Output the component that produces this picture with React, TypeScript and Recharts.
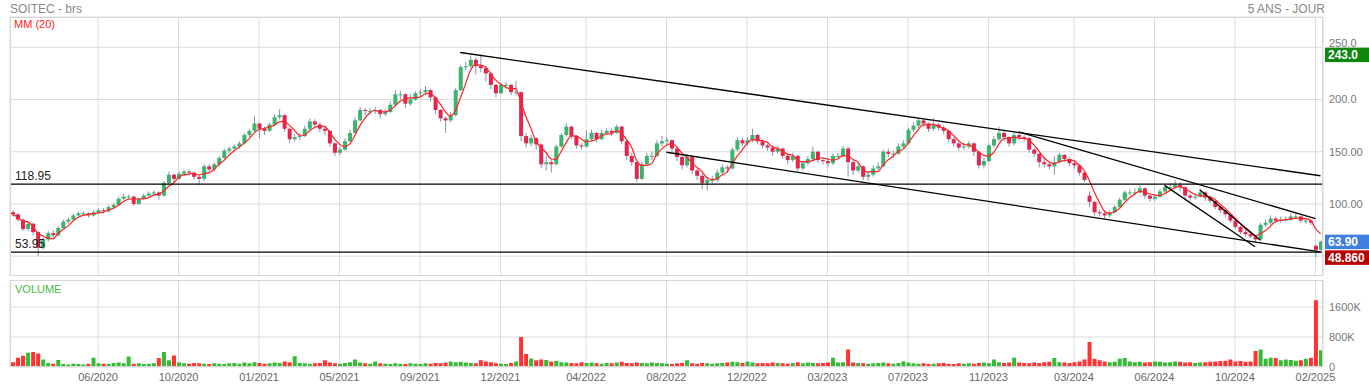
import React from 'react';
import { ComposedChart, Bar, Line, XAxis, YAxis, CartesianGrid, ReferenceLine, Cell } from 'recharts';

// weekly candles, Feb 2020 -> Feb 2025
const closes = [
  90, 85, 76, 81, 73, 58, 66, 72, 70, 77,
  83, 85, 89, 91, 91, 89, 92, 94, 93, 97,
  99, 105, 107, 107, 100, 105, 108, 110, 111, 108,
  120, 128, 124, 129, 131, 130, 126, 124, 136, 133,
  138, 144, 151, 153, 155, 158, 166, 170, 177, 172,
  170, 176, 183, 185, 172, 162, 164, 165, 172, 179,
  176, 172, 170, 158, 149, 152, 160, 168, 180, 190,
  189, 189, 190, 186, 188, 195, 205, 205, 196, 200,
  206, 207, 209, 202, 190, 182, 180, 185, 209, 231,
  232, 238, 232, 230, 225, 214, 206, 214, 214, 207,
  207, 165, 158, 163, 157, 138, 140, 138, 155, 166,
  174, 165, 156, 155, 162, 168, 162, 168, 170, 168,
  174, 160, 146, 140, 124, 138, 146, 146, 158, 160,
  161, 153, 145, 137, 145, 132, 127, 120, 123, 123,
  130, 135, 134, 152, 161, 158, 161, 166, 160, 156,
  154, 150, 153, 146, 142, 146, 134, 139, 143, 150,
  142, 141, 139, 146, 146, 153, 140, 132, 136, 126,
  128, 134, 136, 150, 148, 148, 155, 158, 171, 175,
  180, 177, 172, 176, 173, 170, 162, 158, 154, 155,
  158, 150, 137, 141, 156, 162, 168, 164, 158, 166,
  164, 163, 152, 148, 140, 138, 136, 140, 147, 143,
  139, 137, 130, 123, 102, 92, 91, 89, 92, 97,
  104, 111, 111, 111, 115, 108, 105, 107, 112, 116,
  116, 118, 116, 108, 106, 107, 111, 106, 103, 97,
  94, 90, 84, 78, 73, 71, 69, 66, 80, 82,
  86, 84, 85, 85, 88, 88, 84, 84, 82, 56, 63.9,
];

const opens = [
  92, 90, 85, 76, 81, 73, 58, 66, 72, 70,
  77, 83, 85, 89, 91, 91, 89, 92, 94, 93,
  97, 99, 105, 107, 107, 100, 105, 108, 110, 111,
  108, 120, 128, 124, 129, 131, 130, 126, 124, 136,
  133, 138, 144, 151, 153, 155, 158, 166, 170, 177,
  172, 170, 176, 183, 185, 172, 162, 164, 165, 172,
  179, 176, 172, 170, 158, 149, 152, 160, 168, 180,
  190, 189, 189, 190, 186, 188, 195, 205, 205, 196,
  200, 206, 207, 209, 202, 190, 182, 180, 185, 209,
  231, 232, 238, 232, 230, 225, 214, 206, 214, 214,
  207, 207, 165, 158, 163, 157, 138, 140, 138, 155,
  166, 174, 165, 156, 155, 162, 168, 162, 168, 170,
  168, 174, 160, 146, 140, 124, 138, 146, 146, 158,
  160, 161, 153, 145, 137, 145, 132, 127, 120, 123,
  123, 130, 135, 134, 152, 161, 158, 161, 166, 160,
  156, 154, 150, 153, 146, 142, 146, 134, 139, 143,
  150, 142, 141, 139, 146, 146, 153, 140, 132, 136,
  126, 128, 134, 136, 150, 148, 148, 155, 158, 171,
  175, 180, 177, 172, 176, 173, 170, 162, 158, 154,
  155, 158, 150, 137, 141, 156, 162, 168, 164, 158,
  166, 164, 163, 152, 148, 140, 138, 136, 140, 147,
  143, 139, 137, 130, 108, 102, 92, 91, 89, 92,
  97, 104, 111, 111, 111, 115, 108, 105, 107, 112,
  116, 116, 118, 116, 108, 106, 107, 111, 106, 103,
  97, 94, 90, 84, 78, 73, 71, 69, 66, 80,
  82, 86, 84, 85, 85, 88, 88, 84, 84, 60, 56,
];

const highs = [
  94, 91, 86, 83, 82, 74, 68, 74, 75, 79,
  85, 87, 91, 93, 93, 92, 94, 96, 96, 99,
  101, 107, 110, 109, 108, 106, 110, 112, 113, 112,
  122, 131, 129, 131, 133, 133, 131, 128, 138, 138,
  140, 146, 153, 155, 157, 160, 168, 172, 184, 178,
  174, 178, 186, 191, 186, 173, 167, 168, 175, 182,
  181, 178, 175, 171, 159, 155, 163, 171, 183, 193,
  192, 192, 193, 191, 191, 198, 209, 208, 206, 205,
  208, 210, 213, 210, 203, 191, 184, 188, 211, 233,
  236, 242, 240, 243, 232, 226, 215, 216, 217, 215,
  218, 208, 168, 166, 164, 158, 146, 143, 157, 168,
  177, 175, 166, 158, 170, 171, 169, 171, 173, 172,
  176, 175, 161, 149, 141, 140, 149, 150, 161, 165,
  164, 162, 154, 147, 148, 146, 134, 129, 126, 127,
  133, 138, 137, 154, 164, 163, 164, 172, 167, 162,
  158, 156, 156, 154, 148, 149, 147, 141, 146, 155,
  151, 145, 144, 148, 149, 156, 155, 142, 139, 137,
  131, 137, 140, 152, 153, 151, 158, 161, 173, 178,
  182, 181, 178, 182, 178, 175, 171, 164, 160, 158,
  160, 159, 151, 144, 158, 165, 174, 170, 165, 169,
  168, 166, 164, 154, 149, 145, 140, 146, 149, 148,
  145, 141, 138, 131, 112, 103, 94, 93, 94, 99,
  106, 113, 114, 115, 118, 116, 109, 109, 114, 118,
  120, 123, 121, 117, 110, 110, 114, 112, 108, 104,
  98, 95, 91, 85, 79, 75, 73, 70, 82, 85,
  89, 88, 88, 88, 91, 91, 89, 86, 85, 61, 65,
];

const lows = [
  88, 83, 74, 74, 70, 50, 56, 64, 68, 69,
  76, 81, 84, 88, 89, 87, 88, 90, 91, 92,
  95, 98, 104, 104, 98, 99, 104, 107, 108, 104,
  107, 119, 121, 123, 127, 127, 123, 118, 122, 130,
  131, 136, 143, 149, 151, 153, 157, 164, 168, 163,
  166, 169, 175, 181, 169, 158, 160, 161, 164, 170,
  173, 169, 166, 155, 146, 147, 151, 159, 167, 179,
  185, 186, 186, 182, 184, 187, 194, 200, 192, 194,
  199, 203, 204, 198, 186, 179, 168, 178, 184, 208,
  228, 230, 224, 226, 217, 210, 202, 205, 210, 204,
  204, 160, 154, 155, 152, 134, 132, 130, 137, 154,
  165, 162, 153, 152, 154, 160, 159, 161, 166, 165,
  167, 157, 142, 136, 121, 123, 137, 142, 145, 155,
  157, 150, 141, 133, 135, 129, 123, 114, 113, 118,
  121, 128, 130, 133, 150, 155, 156, 159, 157, 153,
  151, 146, 148, 143, 138, 140, 131, 132, 137, 141,
  139, 138, 135, 137, 143, 145, 126, 128, 130, 123,
  122, 126, 132, 135, 145, 144, 147, 153, 157, 169,
  173, 174, 169, 170, 170, 167, 159, 155, 151, 152,
  153, 146, 134, 134, 140, 154, 160, 160, 155, 156,
  161, 160, 149, 145, 135, 135, 133, 128, 139, 140,
  136, 134, 127, 121, 97, 89, 88, 86, 87, 91,
  96, 103, 108, 108, 110, 105, 102, 103, 106, 111,
  113, 114, 112, 105, 103, 104, 106, 103, 101, 95,
  91, 87, 82, 76, 71, 69, 67, 63, 64, 78,
  80, 82, 82, 83, 84, 85, 82, 81, 80, 48.86, 55,
];

// volume in thousands of shares
const volumes = [
  130, 250, 300, 380, 400, 360, 200, 110, 90, 190,
  80, 70, 90, 80, 70, 90, 250, 100, 90, 80,
  110, 120, 100, 280, 90, 100, 80, 90, 100, 240,
  400, 180, 310, 120, 100, 90, 110, 100, 90, 80,
  100, 90, 80, 100, 110, 90, 120, 100, 130, 110,
  90, 100, 120, 110, 150, 130, 290, 110, 100, 90,
  100, 110, 180, 120, 100, 90, 110, 130, 200, 120,
  100, 90, 150, 100, 90, 80, 100, 90, 80, 100,
  90, 80, 100, 90, 110, 100, 120, 150, 130, 140,
  120, 110, 100, 180, 150, 130, 100, 90, 80, 110,
  150, 800, 350, 230, 180, 200, 190, 150, 170, 130,
  120, 110, 100, 130, 110, 120, 100, 90, 110, 100,
  120, 140, 110, 100, 120, 110, 100, 120, 110, 100,
  90, 80, 100, 110, 180, 100, 90, 110, 100, 90,
  100, 110, 120, 140, 130, 110, 150, 120, 100, 110,
  100, 120, 110, 100, 90, 110, 130, 100, 120, 110,
  100, 110, 120, 250, 120, 130, 470, 120, 110, 100,
  90, 100, 110, 120, 100, 90, 110, 150, 120, 100,
  90, 100, 80, 90, 100, 110, 90, 80, 100, 90,
  100, 90, 110, 120, 100, 200, 130, 110, 120, 250,
  120, 110, 100, 120, 110, 130, 140, 240, 130, 120,
  110, 130, 150, 200, 670, 220, 180, 150, 130, 140,
  220, 240, 150, 130, 140, 120, 130, 150, 140, 120,
  130, 150, 140, 120, 130, 110, 120, 130, 140, 150,
  160, 170, 200, 150, 160, 140, 150, 430, 470, 220,
  250, 240, 180, 200, 190, 170, 180, 220, 250, 1780, 450,
];

const tickWeeks = [17, 33, 49, 65, 81, 97, 114, 130, 146, 162, 178, 194, 211, 227, 243, 259];
const tickLabels = [
  '06/2020', '10/2020', '01/2021', '05/2021', '09/2021', '12/2021', '04/2022', '08/2022',
  '12/2022', '03/2023', '07/2023', '11/2023', '03/2024', '06/2024', '10/2024', '02/2025',
];

const levels = [118.95, 53.95];

const trendLines = [
  [[89, 245], [260, 127]],
  [[130, 149.5], [260, 54]],
  [[200, 169], [259, 86]],
  [[229, 117.8], [247, 59]],
  [[236, 113.5], [248, 65.5]],
];

const badges = [
  { value: 243, text: '243.0', color: '#0d870d' },
  { value: 63.9, text: '63.90', color: '#3f7fe0' },
  { value: 48.86, text: '48.860', color: '#b80000' },
];

const priceTickText: Record<number, string> = { 250: '250.0', 200: '200.0', 150: '150.00', 100: '100.00', 50: '' };

const rows = closes.map((c, i) => {
  const from = Math.max(0, i - 3);
  const win = closes.slice(from, i + 1);
  return {
    i,
    open: opens[i],
    close: c,
    high: highs[i],
    low: lows[i],
    range: [lows[i], highs[i]],
    ma: win.reduce((a, b) => a + b, 0) / win.length,
    vol: volumes[i],
  };
});

const Candle = (props: any) => {
  const { x, y, width, height, payload } = props;
  const { open, close, high, low } = payload;
  const k = height / (high - low || 1);
  const cx = x + width / 2;
  const yO = y + (high - open) * k;
  const yC = y + (high - close) * k;
  const up = close >= open;
  return (
    <g>
      <line x1={cx} x2={cx} y1={y} y2={y + height} stroke="#8094ae" strokeWidth={1} />
      <rect x={x} y={Math.min(yO, yC)} width={width} height={Math.max(1, Math.abs(yC - yO))} fill={up ? '#3cb46e' : '#e2264f'} />
    </g>
  );
};

const PriceTick = ({ x, y, payload }: any) => (
  <text x={x} y={payload.value === 250 ? y - 4 : y} dy="0.355em" textAnchor="start" fontSize={11} fill="#777">
    {priceTickText[payload.value]}
  </text>
);

const LevelLabel = ({ viewBox, text }: any) => (
  <text x={viewBox.x + 5} y={viewBox.y - 4} fontSize={12} fill="#222">{text}</text>
);

const Badge = ({ viewBox, text, color }: any) => {
  const x = viewBox.x + viewBox.width + 2;
  const y = viewBox.y;
  return (
    <g>
      <rect x={x} y={y - 7} width={44} height={14.5} fill={color} />
      <text x={x + 3} y={y + 4.5} fontSize={12} fontWeight="bold" fill="#fff">{text}</text>
    </g>
  );
};

export default function App() {
  return (
    <div style={{ position: 'absolute', left: 0, top: 0, width: 1369, height: 387, background: '#fff', fontFamily: 'Arial, "Liberation Sans", sans-serif' }}>
      <div style={{ position: 'absolute', left: 10, top: 2, fontSize: 12, color: '#888' }}>SOITEC - brs</div>
      <div style={{ position: 'absolute', right: 44, top: 2, fontSize: 12, color: '#888' }}>5 ANS - JOUR</div>

      <div style={{ position: 'absolute', left: 0, top: 0 }}>
        <ComposedChart width={1369} height={276} data={rows} margin={{ top: 17, right: 0, bottom: 0, left: 10 }}>
          <CartesianGrid stroke="#dcdcdc" />
          <XAxis dataKey="i" type="category" hide ticks={tickWeeks} />
          <YAxis
            orientation="right"
            width={46}
            domain={[31, 279]}
            allowDataOverflow
            ticks={[50, 100, 150, 200, 250]}
            axisLine={false}
            tickLine={false}
            tickSize={4}
            tickMargin={2}
            tick={<PriceTick />}
          />
          <Bar dataKey="range" barSize={4} shape={<Candle />} isAnimationActive={false} />
          <Line dataKey="ma" type="monotone" stroke="#ff2222" strokeWidth={1.2} dot={false} isAnimationActive={false} />
          {levels.map((v) => (
            <ReferenceLine key={v} y={v} stroke="#000" strokeWidth={1.2} label={<LevelLabel text={String(v)} />} />
          ))}
          {trendLines.map((s, n) => (
            <ReferenceLine
              key={n}
              segment={[{ x: s[0][0], y: s[0][1] }, { x: s[1][0], y: s[1][1] }]}
              stroke="#000"
              strokeWidth={1.3}
              ifOverflow="visible"
            />
          ))}
          {badges.map((b) => (
            <ReferenceLine key={b.text} y={b.value} stroke="none" ifOverflow="visible" label={<Badge text={b.text} color={b.color} />} />
          ))}
        </ComposedChart>
      </div>

      <div style={{ position: 'absolute', left: 14, top: 18, fontSize: 11, color: '#ff2222' }}>MM (20)</div>

      <div style={{ position: 'absolute', left: 0, top: 280 }}>
        <ComposedChart width={1369} height={107} data={rows} margin={{ top: 0, right: 0, bottom: 0, left: 10 }}>
          <CartesianGrid stroke="#dcdcdc" />
          <XAxis
            dataKey="i"
            type="category"
            ticks={tickWeeks}
            interval={0}
            tickFormatter={(v: number) => tickLabels[tickWeeks.indexOf(v)]}
            height={20}
            axisLine={false}
            tickLine={false}
            tickSize={4}
            tickMargin={2}
            tick={{ fill: '#666', fontSize: 11 }}
          />
          <YAxis
            orientation="right"
            width={46}
            domain={[0, 2320]}
            allowDataOverflow
            ticks={[0, 800, 1600]}
            tickFormatter={(v: number) => (v === 0 ? '0' : v + 'K')}
            axisLine={false}
            tickLine={false}
            tickSize={4}
            tickMargin={2}
            tick={{ fill: '#777', fontSize: 11 }}
          />
          <Bar dataKey="vol" barSize={4} isAnimationActive={false}>
            {rows.map((r) => (
              <Cell key={r.i} fill={r.close >= r.open ? '#33bb33' : '#ff3333'} />
            ))}
          </Bar>
        </ComposedChart>
      </div>

      <div style={{ position: 'absolute', left: 15, top: 283, fontSize: 11, color: '#44bb44' }}>VOLUME</div>

      <div style={{ position: 'absolute', left: 10, top: 17, width: 1313, height: 259, border: '1px solid #d6d6d6', boxSizing: 'border-box', pointerEvents: 'none' }} />
      <div style={{ position: 'absolute', left: 10, top: 280, width: 1313, height: 87, border: '1px solid #d6d6d6', boxSizing: 'border-box', pointerEvents: 'none' }} />
    </div>
  );
}
